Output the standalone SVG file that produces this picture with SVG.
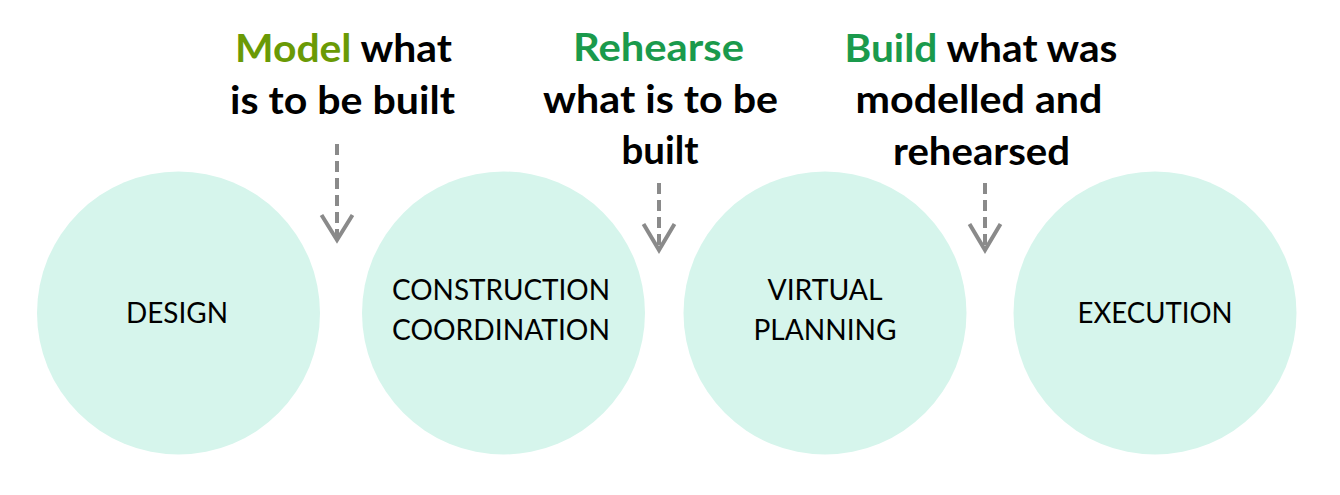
<svg xmlns="http://www.w3.org/2000/svg" width="1340" height="495" viewBox="0 0 1340 495">
  <style>
    .node { fill: #D6F5EC; }
    .label { font-family: Lato, "Liberation Sans", sans-serif; font-size: 29px; fill: #000; text-anchor: middle; }
    .head { font-family: Lato, "Liberation Sans", sans-serif; font-size: 39px; font-weight: bold; fill: #000; text-anchor: middle; }
    .olive { fill: #6A9A05; }
    .green { fill: #1A9A4C; }
    .shaft { stroke: #8A8A8A; stroke-width: 4; stroke-dasharray: 11 6; fill: none; }
    .head-arrow { stroke: #8A8A8A; stroke-width: 4; fill: none; stroke-linejoin: miter; }
  </style>
  <rect width="1340" height="495" fill="#FFFFFF"/>

  <g id="node-design">
    <circle class="node" cx="178.5" cy="313" r="141.5"/>
    <text class="label" x="177" y="323" textLength="102" lengthAdjust="spacingAndGlyphs">DESIGN</text>
  </g>
  <g id="node-construction-coordination">
    <circle class="node" cx="503.5" cy="313" r="141.5"/>
    <text class="label" x="501" y="300" textLength="218" lengthAdjust="spacingAndGlyphs">CONSTRUCTION</text>
    <text class="label" x="501" y="340" textLength="218" lengthAdjust="spacingAndGlyphs">COORDINATION</text>
  </g>
  <g id="node-virtual-planning">
    <circle class="node" cx="825" cy="313" r="141.5"/>
    <text class="label" x="825" y="300" textLength="115" lengthAdjust="spacingAndGlyphs">VIRTUAL</text>
    <text class="label" x="825" y="340" textLength="143" lengthAdjust="spacingAndGlyphs">PLANNING</text>
  </g>
  <g id="node-execution">
    <circle class="node" cx="1155" cy="313" r="141.5"/>
    <text class="label" x="1155" y="323" textLength="155" lengthAdjust="spacingAndGlyphs">EXECUTION</text>
  </g>

  <g id="caption-model">
    <text class="head" x="343.5" y="62" textLength="217" lengthAdjust="spacingAndGlyphs"><tspan class="olive">Model</tspan> what</text>
    <text class="head" x="342.5" y="114" textLength="225" lengthAdjust="spacingAndGlyphs">is to be built</text>
  </g>
  <g id="caption-rehearse">
    <text class="head green" x="658.5" y="61" textLength="171" lengthAdjust="spacingAndGlyphs">Rehearse</text>
    <text class="head" x="660.5" y="113" textLength="235" lengthAdjust="spacingAndGlyphs">what is to be</text>
    <text class="head" x="660" y="164" textLength="77" lengthAdjust="spacingAndGlyphs">built</text>
  </g>
  <g id="caption-build">
    <text class="head" x="981" y="62" textLength="273" lengthAdjust="spacingAndGlyphs"><tspan class="green">Build</tspan> what was</text>
    <text class="head" x="979" y="113" textLength="247" lengthAdjust="spacingAndGlyphs">modelled and</text>
    <text class="head" x="981.5" y="165" textLength="177" lengthAdjust="spacingAndGlyphs">rehearsed</text>
  </g>

  <g id="connectors">
    <line class="shaft" x1="337" y1="144" x2="337" y2="238"/>
    <polyline class="head-arrow" points="321.5,215 337,240 352.5,215"/>
    <line class="shaft" x1="659" y1="183" x2="659" y2="248"/>
    <polyline class="head-arrow" points="643.5,224 659,250 674.5,224"/>
    <line class="shaft" x1="985" y1="183" x2="985" y2="248"/>
    <polyline class="head-arrow" points="969.5,224 985,250 1000.5,224"/>
  </g>
</svg>
